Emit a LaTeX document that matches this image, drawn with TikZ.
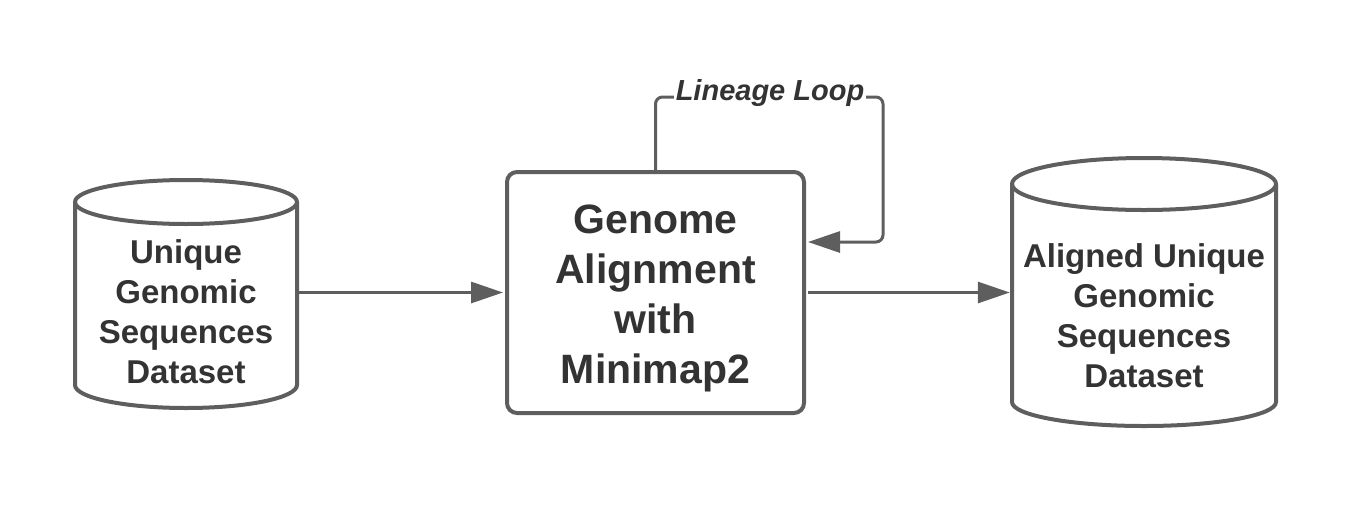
\documentclass[tikz,border=0pt]{standalone}
\usepackage{fontspec}
\setmainfont{Liberation Sans}
\usetikzlibrary{arrows.meta}
\definecolor{ln}{HTML}{5E5E5E}
\definecolor{tx}{HTML}{333333}
\begin{document}
\begin{tikzpicture}[x=1pt,y=1pt,
  shapeline/.style={draw=ln, line width=4pt},
  dbtext/.style={align=center, text=tx, font=\bfseries\fontsize{33}{40}\selectfont, inner sep=0pt},
  boxnode/.style={draw=ln, line width=4pt, rounded corners=10pt, align=center, text=tx,
     font=\bfseries\fontsize{41}{50}\selectfont, minimum width=297pt, minimum height=241pt, inner sep=0pt},
  arr/.style={draw=ln, line width=3pt, -{Triangle[length=32pt,width=21pt]}},
  looplabel/.style={fill=white, text=tx, font=\bfseries\itshape\fontsize{29}{34}\selectfont, inner sep=2pt}
]
\useasboundingbox (0,0) rectangle (1352,-504);
% left cylinder
\draw[shapeline] (75,-202) -- (75,-385) arc (180:360:111 and 23) -- (297,-202) arc (0:180:111 and 22) -- cycle;
\draw[shapeline] (75,-202) arc (180:360:111 and 22);
\node[dbtext, minimum width=226pt] (src) at (186,-312) {Unique\\Genomic\\Sequences\\Dataset};
% right cylinder
\draw[shapeline] (1012,-184) -- (1012,-402) arc (180:360:132 and 24) -- (1276,-184) arc (0:180:132 and 26) -- cycle;
\draw[shapeline] (1012,-184) arc (180:360:132 and 26);
\node[dbtext, minimum width=268pt] (dst) at (1144,-316) {Aligned Unique\\Genomic\\Sequences\\Dataset};
% middle box
\node[boxnode] (aln) at (655.5,-292.5) {};
\node[align=center, text=tx, font=\bfseries\fontsize{41}{50}\selectfont, inner sep=0pt] (alntext) at (655.5,-298.5) {Genome\\Alignment\\with\\Minimap2};
% connectors
\draw[arr] (src.east |- aln.west) -- ([xshift=-2pt]aln.west);
\draw[arr] ([xshift=2pt]aln.east) -- (dst.west |- aln.east);
\coordinate (lpA) at (655.5,-97);
\coordinate (lpB) at (883,-97);
\coordinate (lpC) at (883,-242);
\draw[arr, rounded corners=7pt] (aln.north) -- (lpA) -- (lpB) -- (lpC) -- ([xshift=2pt]aln.east |- lpC);
\node[looplabel] (lbl) at (770,-93) {Lineage Loop};
\end{tikzpicture}
\end{document}
